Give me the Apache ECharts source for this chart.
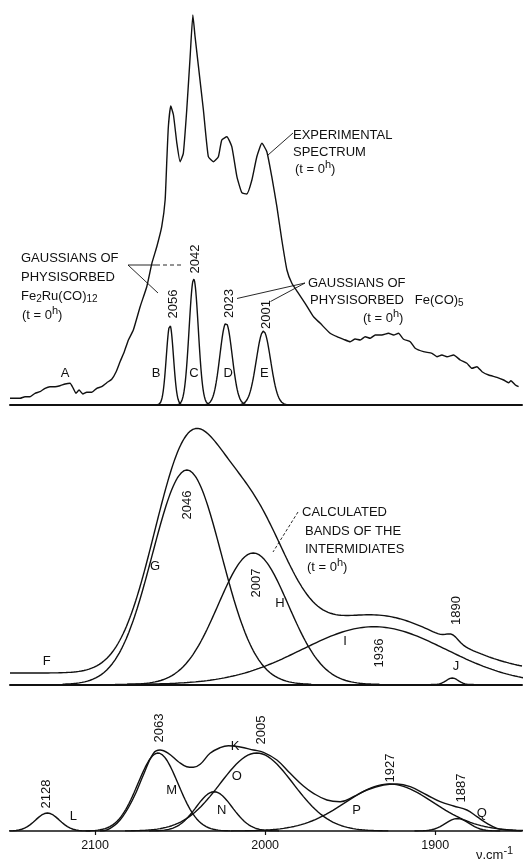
<!DOCTYPE html>
<html>
<head>
<meta charset="utf-8">
<script src="https://cdn.jsdelivr.net/npm/echarts@6/dist/echarts.min.js"></script>
<style>
  html, body { margin: 0; padding: 0; background: #fff; }
  #chart { width: 523px; height: 860px; }
</style>
</head>
<body>
<div id="chart"></div>
<script>
// Wavenumber range (cm-1); high wavenumbers on the left
const waveMin = 1849;
const waveMax = 2150;
const tickValues = [1900, 2000, 2100];

// Experimental spectrum at t = 0 h (wavenumber, absorbance in arbitrary units)
const exptWave = [2150.0,2144.1,2141.2,2138.2,2135.3,2132.4,2129.4,2126.5,2123.5,2120.6,2117.6,2114.7,2112.8,2111.2,2109.4,2107.2,2104.9,2101.9,2099.0,2096.1,2093.1,2090.2,2087.6,2085.3,2082.8,2080.4,2077.5,2073.5,2069.6,2066.6,2063.7,2060.8,2058.8,2057.8,2056.9,2055.5,2053.9,2051.9,2050.0,2048.1,2046.1,2044.1,2042.5,2041.2,2039.2,2036.3,2033.4,2030.4,2027.5,2025.5,2022.5,2019.6,2016.6,2013.7,2010.8,2007.8,2004.9,2001.9,1999.0,1996.1,1993.1,1990.2,1987.2,1984.3,1980.4,1976.5,1971.6,1967.6,1961.8,1957.8,1953.9,1950.0,1947.1,1944.1,1941.2,1938.2,1935.3,1931.4,1927.5,1924.5,1921.6,1918.6,1914.7,1911.8,1906.9,1901.9,1899.0,1896.1,1893.1,1889.2,1885.3,1881.4,1878.4,1875.5,1872.5,1868.6,1863.7,1859.8,1856.9,1855.5,1852.9,1851.0];
const exptAbs = [6.7,6.7,8.3,8.3,11.7,13.3,16.7,18.3,18.3,19.3,21,21.7,16.7,11.7,15,11,12.7,12.7,16.7,18.3,22.3,25.7,33.3,43.3,53.3,65,75,98.3,118.3,141.7,158.3,178.3,205,245,278.3,299,290,261.7,243.3,251.7,295,348.3,390,368.3,338.3,295,248.3,243.3,248.3,265,268.3,258.3,228.3,212.3,211,225,248.3,261.7,253.3,228.3,198.3,165,135,121.7,111.7,101.7,88.3,81.7,71.7,68.3,65.7,63.3,66,65,68.3,66.7,70,70,71.7,70,71.7,65.7,63.3,56.7,53.3,51.7,48.3,50,48.3,50,45,41.7,36.7,38.3,33.3,30,27.7,25,22.3,24.3,20,18.3];

// Gaussians of physisorbed Fe2Ru(CO)12 (B, C) and Fe(CO)5 (D, E)
const physNames = ['B', 'C', 'D', 'E'];
const physCenter = [2056, 2042, 2023, 2001];
const physHeight = [80, 126, 82, 74];
const physSigma = [2.1, 2.7, 3.6, 4.2];

// Calculated bands of the intermediates (G..J) on a flat background F
const interBackground = 11.5;
const interNames = ['G', 'H', 'I', 'J'];
const interCenter = [2046, 2007, 1936, 1890];
const interHeight = [214.5, 131.5, 57.8, 6.5];
const interSigma = [20.3, 20.6, 42.3, 3.5];

// Band fit of the lower spectrum (L..Q); N carries no wavenumber label
const fitNames = ['L', 'M', 'N', 'O', 'P', 'Q'];
const fitCenter = [2128, 2063, 2030, 2005, 1927, 1887];
const fitHeight = [18, 78, 39.3, 78, 47, 12.5];
const fitSigma = [7, 11.8, 10.6, 21.5, 25.9, 7];
const fitLabelled = [true, true, false, true, true, true];

// Envelope K of the lower spectrum
const envWave = [2097.1,2093.1,2085.3,2077.5,2071.6,2065.7,2061.8,2056.9,2051.0,2046.1,2042.2,2038.2,2032.4,2026.5,2021.6,2014.7,2006.9,2001.0,1993.1,1985.3,1977.5,1971.6,1963.7,1955.9,1948.1,1940.2,1930.4,1922.5,1914.7,1904.9,1897.1,1889.2,1881.4,1875.5,1869.6,1863.7,1857.8,1849.4];
const envAbs = [0,1,11,32.7,56,77.7,81,77.7,69.3,64.3,63.7,66.7,77.7,83.3,85.3,84,81,78.7,71,57.7,45,37.7,31,29.3,34.3,41,46,47,44.3,36,29.3,25,21,14.3,7.7,2.7,1,0];

// ---- drawing ----
const INK = '#111';
const FONT = "'Liberation Sans', Arial, sans-serif";

function gaussian(center, height, sigma, w) {
  const d = (w - center) / sigma;
  return height * Math.exp(-0.5 * d * d);
}

function bandPoints(center, height, sigma) {
  const pts = [];
  const span = 3.6 * sigma;
  const step = sigma / 25;
  for (let w = center - span; w <= center + span + 1e-9; w += step) {
    pts.push([w, gaussian(center, height, sigma, w)]);
  }
  return pts;
}

function lineSeries(data, gridIdx, smooth) {
  return {
    type: 'line',
    xAxisIndex: gridIdx,
    yAxisIndex: gridIdx,
    data: data,
    symbol: 'none',
    smooth: smooth || false,
    silent: true,
    animation: false,
    lineStyle: { color: INK, width: 1.4 }
  };
}

const series = [];

// top: experimental spectrum and physisorbed Gaussians
series.push(lineSeries(exptWave.map((w, i) => [w, exptAbs[i]]), 0, 0.15));
physCenter.forEach((c, i) => series.push(lineSeries(bandPoints(c, physHeight[i], physSigma[i]), 0)));

// middle: sum of intermediate bands over background, and each band
const interEnvelope = [];
for (let w = waveMin; w <= waveMax; w += 0.5) {
  let s = interBackground;
  interCenter.forEach((c, i) => { s += gaussian(c, interHeight[i], interSigma[i], w); });
  interEnvelope.push([w, s]);
}
series.push(lineSeries(interEnvelope, 1));
interCenter.forEach((c, i) => series.push(lineSeries(bandPoints(c, interHeight[i], interSigma[i]), 1)));

// bottom: fitted bands and envelope K
fitCenter.forEach((c, i) => series.push(lineSeries(bandPoints(c, fitHeight[i], fitSigma[i]), 2)));
series.push(lineSeries(envWave.map((w, i) => [w, envAbs[i]]), 2, 0.4));

const grids = [
  { left: 10, width: 512, top: 5, height: 400 },
  { left: 10, width: 512, top: 424.5, height: 260 },
  { left: 10, width: 512, top: 741, height: 90 }
];
const yMax = [400, 260, 90];

const xAxes = grids.map((g, i) => ({
  type: 'value',
  gridIndex: i,
  min: waveMin,
  max: waveMax,
  inverse: true,
  splitLine: { show: false },
  axisLine: { show: true, lineStyle: { color: INK, width: i === 2 ? 1.6 : 2 } },
  axisTick: i === 2
    ? { show: true, inside: false, length: 4, customValues: tickValues, lineStyle: { color: INK, width: 1.2 } }
    : { show: false },
  axisLabel: i === 2
    ? { show: true, customValues: tickValues, color: INK, fontSize: 12.5, fontFamily: FONT, margin: 8,
        formatter: v => String(v) }
    : { show: false }
}));
const yAxes = grids.map((g, i) => ({
  type: 'value', gridIndex: i, min: 0, max: yMax[i], show: false
}));

// ---- annotations (pixel layout) ----
const rich = {
  n: { fontSize: 13, fontFamily: FONT, color: INK },
  sup: { fontSize: 11, fontFamily: FONT, color: INK, padding: [0, 0, 9, 0] },
  sub: { fontSize: 10, fontFamily: FONT, color: INK, padding: [7, 0, 0, 0] }
};

function txt(x, y, text, opts) {
  opts = opts || {};
  return {
    type: 'text', x: x, y: y, silent: true,
    rotation: opts.rotation || 0,
    style: {
      text: text, fill: INK, fontSize: opts.size || 13, fontFamily: FONT,
      align: opts.align || 'left', verticalAlign: 'middle',
      textAlign: opts.align || 'left', textVerticalAlign: 'middle',
      rich: rich
    }
  };
}
function leader(points, dash) {
  return {
    type: 'polyline', silent: true,
    shape: { points: points },
    style: { stroke: INK, lineWidth: 0.9, fill: null, lineDash: dash || null }
  };
}

const graphics = [];

// text blocks
graphics.push(txt(293, 135, 'EXPERIMENTAL'));
graphics.push(txt(293, 152, 'SPECTRUM'));
graphics.push(txt(295, 169, '{n|(t = 0}{sup|h}{n|)}'));

graphics.push(txt(21, 258, 'GAUSSIANS OF'));
graphics.push(txt(21, 277, 'PHYSISORBED'));
graphics.push(txt(21, 296, '{n|Fe}{sub|2}{n|Ru(CO)}{sub|12}'));
graphics.push(txt(22, 315, '{n|(t = 0}{sup|h}{n|)}'));

graphics.push(txt(308, 283, 'GAUSSIANS OF'));
graphics.push(txt(310, 300, '{n|PHYSISORBED   Fe(CO)}{sub|5}'));
graphics.push(txt(363, 318, '{n|(t = 0}{sup|h}{n|)}'));

graphics.push(txt(302, 512, 'CALCULATED'));
graphics.push(txt(305, 531, 'BANDS OF THE'));
graphics.push(txt(305, 549, 'INTERMIDIATES'));
graphics.push(txt(307, 567, '{n|(t = 0}{sup|h}{n|)}'));

// leader lines
graphics.push(leader([[268, 155], [293, 133]]));
graphics.push(leader([[128, 265], [160, 265]]));
graphics.push(leader([[163, 265], [182, 265]], [4, 3]));
graphics.push(leader([[128, 265], [158, 293]]));
graphics.push(leader([[305, 283], [237, 298.5]]));
graphics.push(leader([[305, 283], [270.5, 301.5]]));
graphics.push(leader([[298, 512], [273, 552]], [3, 2]));

// band letters
const letterPos = {
  A: [65, 373], B: [156, 373], C: [194, 373], D: [228.3, 373], E: [264.3, 373],
  F: [46.7, 661.7], G: [155, 566.7], H: [280, 603.3], I: [345, 641], J: [456, 666.7],
  K: [235, 746.7], L: [73.3, 816.7], M: [171.7, 790], N: [221.7, 810], O: [236.7, 776.7],
  P: [356.7, 810], Q: [481.7, 813.3]
};
Object.keys(letterPos).forEach(k => {
  graphics.push(txt(letterPos[k][0], letterPos[k][1], k, { align: 'center' }));
});

// wavenumber labels of the bands, written upward
const physLabelPos = [[173.3, 304], [195, 259], [229, 303.5], [266, 314.5]];
const interLabelPos = [[187.7, 505], [256.7, 583], [379.3, 653], [456.7, 610.5]];
const fitLabelPos = [[46.7, 794], [159.3, 728], null, [261.7, 730], [390, 768], [461.7, 788]];
function pushValueLabels(centers, positions, shown) {
  centers.forEach((c, i) => {
    if (!positions[i] || (shown && !shown[i])) return;
    graphics.push(txt(positions[i][0], positions[i][1], String(c), { align: 'center', rotation: Math.PI / 2 }));
  });
}
pushValueLabels(physCenter, physLabelPos);
pushValueLabels(interCenter, interLabelPos);
pushValueLabels(fitCenter, fitLabelPos, fitLabelled);

// axis unit
graphics.push(txt(476, 855, '{n|ν.cm}{sup|-1}'));

const chart = echarts.init(document.getElementById('chart'), null, { renderer: 'canvas' });
chart.setOption({
  animation: false,
  backgroundColor: '#fff',
  grid: grids,
  xAxis: xAxes,
  yAxis: yAxes,
  series: series,
  graphic: { elements: graphics }
});
</script>
</body>
</html>
